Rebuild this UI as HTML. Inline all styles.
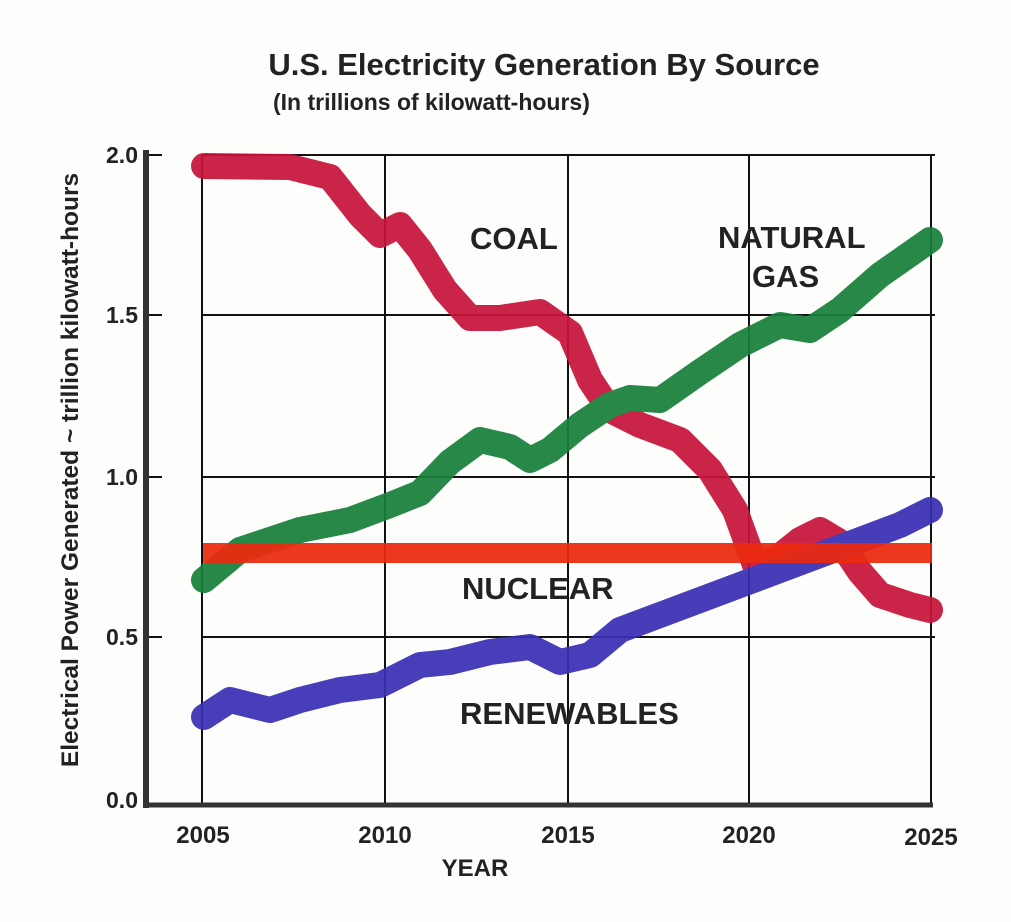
<!DOCTYPE html>
<html><head><meta charset="utf-8"><style>
body{margin:0;background:#fdfdfb;}
svg{display:block}
text{font-family:"Liberation Sans",sans-serif;font-weight:bold;fill:#222}
</style></head><body>
<svg width="1011" height="922" viewBox="0 0 1011 922">
<rect width="1011" height="922" fill="#fdfdfb"/>
<text x="544" y="75" font-size="31" text-anchor="middle">U.S. Electricity Generation By Source</text>
<text x="273" y="110" font-size="23">(In trillions of kilowatt-hours)</text>
<g stroke="#111" stroke-width="2" fill="none">
<line x1="202" y1="155" x2="935" y2="155"/>
<line x1="202" y1="315" x2="935" y2="315"/>
<line x1="202" y1="477" x2="935" y2="477"/>
<line x1="202" y1="637" x2="935" y2="637"/>
<line x1="202" y1="155" x2="202" y2="805"/>
<line x1="385" y1="155" x2="385" y2="805"/>
<line x1="568" y1="155" x2="568" y2="805"/>
<line x1="749" y1="155" x2="749" y2="805"/>
<line x1="931" y1="155" x2="931" y2="805"/>
<line x1="146" y1="155" x2="162" y2="155"/>
<line x1="146" y1="315" x2="162" y2="315"/>
<line x1="146" y1="477" x2="162" y2="477"/>
<line x1="146" y1="637" x2="162" y2="637"/>
</g>
<line x1="146" y1="150" x2="146" y2="808" stroke="#333" stroke-width="6"/>
<line x1="146" y1="805" x2="933" y2="805" stroke="#333" stroke-width="5"/>
<g fill="none" stroke-linecap="round" stroke-linejoin="round" stroke-width="26" opacity="0.93">
<polyline stroke="#c8143c" points="204,166 290,167 330,177 360,215 380,235 400,225 420,250 445,290 470,318 500,318 540,312 570,333 590,380 610,410 640,425 680,440 710,470 735,510 755,565 775,560 800,540 820,530 840,542 860,572 880,595 910,605 930,610"/>
<polyline stroke="#17803a" points="204,580 240,550 300,530 350,520 390,505 420,493 450,462 480,440 510,447 530,460 550,450 580,425 610,405 630,398 660,400 700,372 740,345 780,325 810,330 840,310 880,275 930,240"/>
<polyline stroke="#3a2fb4" points="204,717 230,700 270,710 300,700 340,690 380,685 420,665 450,662 490,652 530,647 560,662 590,655 620,630 660,615 700,600 740,585 780,570 820,555 860,540 900,525 930,510"/>
</g>
<line x1="203" y1="553" x2="932" y2="553" stroke="#ec2a10" stroke-width="20" opacity="0.93"/>
<g font-size="31">
<text x="470" y="249">COAL</text>
<text x="718" y="248">NATURAL</text>
<text x="752" y="287">GAS</text>
<text x="462" y="599">NUCLEAR</text>
<text x="460" y="724">RENEWABLES</text>
</g>
<g font-size="23" text-anchor="end" fill="#333">
<text x="138" y="163">2.0</text>
<text x="138" y="323">1.5</text>
<text x="138" y="485">1.0</text>
<text x="138" y="645">0.5</text>
<text x="138" y="808">0.0</text>
</g>
<g font-size="24" text-anchor="middle">
<text x="203" y="843">2005</text>
<text x="385" y="843">2010</text>
<text x="568" y="843">2015</text>
<text x="749" y="843">2020</text>
<text x="931" y="845">2025</text>
<text x="475" y="876">YEAR</text>
</g>
<text transform="translate(78,470) rotate(-90)" font-size="24.5" text-anchor="middle" fill="#444">Electrical Power Generated ~ trillion kilowatt-hours</text>
</svg>
</body></html>
